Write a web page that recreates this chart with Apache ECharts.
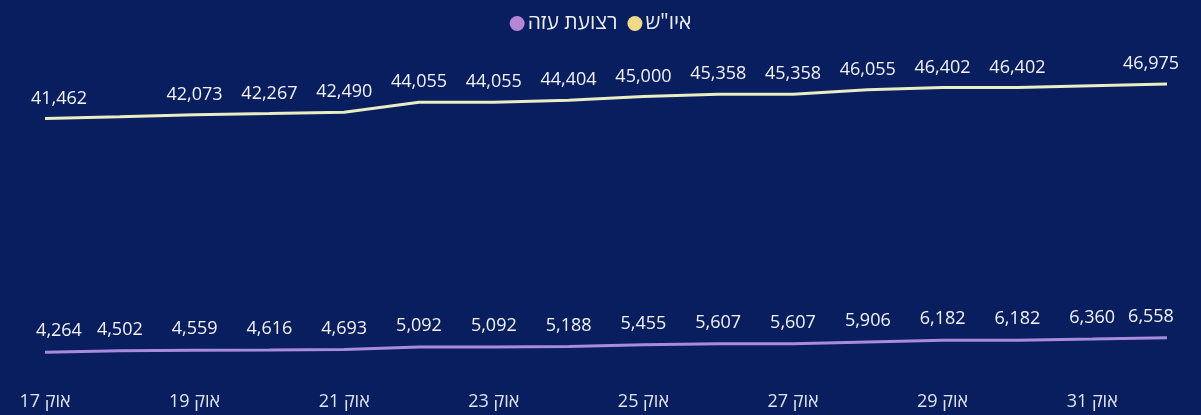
<!DOCTYPE html>
<html>
<head>
<meta charset="utf-8">
<script src="https://cdn.jsdelivr.net/npm/echarts@6/dist/echarts.min.js"></script>
<style>
  html, body { margin: 0; padding: 0; background: #081e5e; }
  #chart { width: 1201px; height: 415px; }
</style>
</head>
<body>
<div id="chart"></div>
<script>
// dates, oct 17 -> nov 1
const days = ['אוק 17', 'אוק 18', 'אוק 19', 'אוק 20', 'אוק 21', 'אוק 22', 'אוק 23', 'אוק 24',
  'אוק 25', 'אוק 26', 'אוק 27', 'אוק 28', 'אוק 29', 'אוק 30', 'אוק 31', 'נוב 1'];

// איו"ש - labels for 18 oct and 31 oct are not shown in the source, values estimated
const westBank = [41462, 41750, 42073, 42267, 42490, 44055, 44055, 44404,
  45000, 45358, 45358, 46055, 46402, 46402, 46700, 46975];
const westBankHidden = [1, 14];

// רצועת עזה
const gaza = [4264, 4502, 4559, 4616, 4693, 5092, 5092, 5188,
  5455, 5607, 5607, 5906, 6182, 6182, 6360, 6558];

const font = '"Open Sans", "DejaVu Sans", sans-serif';

function withLabels(values, hidden) {
  return values.map((v, i) => {
    const item = { value: v };
    if (hidden && hidden.includes(i)) item.label = { show: false };
    else if (i === 0) item.label = { offset: [14, 0] };
    else if (i === values.length - 1) item.label = { offset: [-16, 0] };
    return item;
  });
}

const labelStyle = {
  show: true,
  position: 'top',
  color: '#f2f3f8',
  fontSize: 18,
  fontFamily: font,
  formatter: p => p.value.toLocaleString('en-US')
};

const chart = echarts.init(document.getElementById('chart'));
chart.setOption({
  backgroundColor: '#081e5e',
  animation: false,
  legend: {
    data: ['רצועת עזה', 'איו"ש'],
    top: 8,
    left: 'center',
    icon: 'circle',
    itemWidth: 15,
    itemHeight: 15,
    itemGap: 10,
    textStyle: { color: '#eef0f8', fontSize: 21, fontFamily: font, padding: [0, 0, 0, -2] }
  },
  grid: { left: 45, right: 34, top: 65, bottom: 36 },
  xAxis: {
    type: 'category',
    data: days,
    boundaryGap: false,
    axisLine: { show: false },
    axisTick: { show: false },
    axisLabel: {
      interval: 1,
      color: '#dfe3f2',
      fontSize: 18,
      fontFamily: font,
      margin: 14
    }
  },
  yAxis: {
    type: 'value',
    min: 0,
    max: 50000,
    show: false,
    splitLine: { show: false }
  },
  series: [
    {
      name: 'איו"ש',
      type: 'line',
      data: withLabels(westBank, westBankHidden),
      symbol: 'circle',
      symbolSize: 0,
      itemStyle: { color: '#f0da8a' },
      lineStyle: { color: '#e8edc2', width: 3 },
      label: Object.assign({ distance: 11 }, labelStyle)
    },
    {
      name: 'רצועת עזה',
      type: 'line',
      data: withLabels(gaza),
      symbol: 'circle',
      symbolSize: 0,
      itemStyle: { color: '#b586d8' },
      lineStyle: { color: '#a88be0', width: 3 },
      label: Object.assign({ distance: 12 }, labelStyle)
    }
  ]
});
</script>
</body>
</html>
